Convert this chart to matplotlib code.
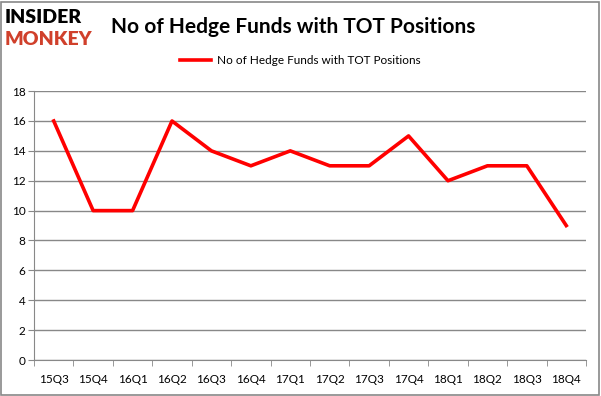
import matplotlib.pyplot as plt
from matplotlib.patches import Rectangle

# === Данные ===
quarters = ['15Q3', '15Q4', '16Q1', '16Q2', '16Q3', '16Q4', '17Q1',
            '17Q2', '17Q3', '17Q4', '18Q1', '18Q2', '18Q3', '18Q4']
hedge_funds = [16, 10, 10, 16, 14, 13, 14, 13, 13, 15, 12, 13, 13, 9]
series_name = 'No of Hedge Funds with TOT Positions'
y_ticks = [0, 2, 4, 6, 8, 10, 12, 14, 16, 18]

plt.rcParams['font.family'] = ['Lato', 'DejaVu Sans']

fig = plt.figure(figsize=(6.01, 3.96), dpi=100)
ax = fig.add_axes([0.0566, 0.0909, 0.9184, 0.679])

x = list(range(len(quarters)))
ax.plot(x, hedge_funds, color='#ff0000', linewidth=2.6, label=series_name)

ax.set_xlim(-0.5, len(quarters) - 0.5)
ax.set_ylim(0, 18)
ax.set_yticks(y_ticks)
ax.set_xticks(x)
ax.set_xticklabels(quarters, fontsize=8.5)
ax.tick_params(axis='x', length=0, pad=10)
ax.tick_params(axis='y', length=4, labelsize=8.5, color='#888888', pad=2)
# засечки между категориями
ax.set_xticks([i - 0.5 for i in range(len(quarters) + 1)], minor=True)
ax.tick_params(axis='x', which='minor', length=4, color='#888888')

ax.grid(axis='y', color='#888888', linewidth=1)
ax.set_axisbelow(True)
for side in ['top', 'right']:
    ax.spines[side].set_visible(False)
ax.spines['left'].set_color('#888888')
ax.spines['bottom'].set_color('#888888')

fig.legend(loc='center', bbox_to_anchor=(0.5, 0.846), frameon=False,
           fontsize=8.5, handlelength=2.6, handletextpad=0.5)

fig.text(0.185, 0.932, 'No of Hedge Funds with TOT Positions', fontsize=15,
         fontweight='bold', va='center', ha='left')

# логотип
fig.text(0.008, 0.955, 'INSIDER', fontsize=14, fontweight='heavy',
         color='black', va='center', ha='left')
fig.text(0.008, 0.9, 'MONKEY', fontsize=14, fontweight='heavy',
         color='#d0402b', va='center', ha='left')

# рамка
fig.patches.append(Rectangle((0.002, 0.003), 0.995, 0.993, transform=fig.transFigure,
                             fill=False, edgecolor='#888888', linewidth=1.2))

fig.savefig('out.png', dpi=100)
